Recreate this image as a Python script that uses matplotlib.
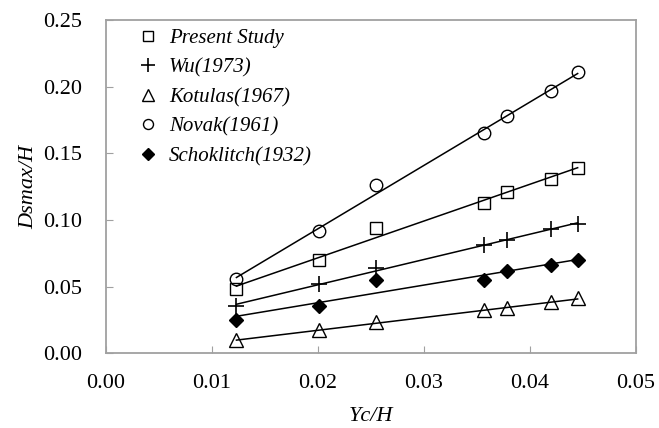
import numpy as np
import matplotlib
matplotlib.use("Agg")
import matplotlib.pyplot as plt
from matplotlib.ticker import FormatStrFormatter

plt.rcParams['font.family'] = ['Liberation Serif', 'DejaVu Serif']

yc_h = [0.0123, 0.0201, 0.0255, 0.0357, 0.0378, 0.0420, 0.0445]

present_study = [0.048, 0.070, 0.094, 0.113, 0.121, 0.131, 0.139]
wu_1973 = [0.035, 0.052, 0.064, 0.081, 0.085, 0.093, 0.097]
kotulas_1967 = [0.0097, 0.017, 0.023, 0.032, 0.034, 0.038, 0.041]
novak_1961 = [0.0556, 0.0916, 0.126, 0.165, 0.178, 0.197, 0.211]
schoklitch_1932 = [0.025, 0.035, 0.055, 0.055, 0.062, 0.066, 0.070]

series = [
    ("Present Study", present_study, dict(marker='s', mfc='none', ms=9)),
    ("Wu(1973)", wu_1973, dict(marker='+', ms=12, mew=1.2)),
    ("Kotulas(1967)", kotulas_1967, dict(marker='^', mfc='none', ms=10)),
    ("Novak(1961)", novak_1961, dict(marker='o', mfc='none', ms=9)),
    ("Schoklitch(1932)", schoklitch_1932, dict(marker='D', mfc='black', ms=7.5)),
]

fig, ax = plt.subplots(figsize=(6.59, 4.28), dpi=100)
fig.subplots_adjust(left=0.161, right=0.965, top=0.953, bottom=0.175)

x = np.array(yc_h)
for label, y, style in series:
    # straight trend line through each data set
    k, b = np.polyfit(x, y, 1)
    ax.plot(x, k * x + b, color='black', lw=1.1, zorder=2)
    ax.plot(x, y, linestyle='none', color='black', mec='black', label=label,
            zorder=3, **style)

ax.set_xlim(0, 0.05)
ax.set_ylim(0, 0.25)
ax.set_xticks(np.arange(0, 0.051, 0.01))
ax.set_yticks(np.arange(0, 0.251, 0.05))
ax.xaxis.set_major_formatter(FormatStrFormatter('%.2f'))
ax.yaxis.set_major_formatter(FormatStrFormatter('%.2f'))
ax.tick_params(direction='in', length=5, color='#a0a0a0', labelsize=16)
ax.tick_params(axis='x', pad=15)
ax.tick_params(axis='y', pad=17)

for s in ax.spines.values():
    s.set_color('#a0a0a0')
    s.set_linewidth(1.3)

ax.set_xlabel("Yc/H", fontsize=16, fontstyle='italic', labelpad=10)
ax.set_ylabel("Dsmax/H", fontsize=16, fontstyle='italic', labelpad=4)

ax.legend(loc='upper left', frameon=False,
          prop={'style': 'italic', 'size': 15},
          handletextpad=0.3, borderaxespad=0.0, labelspacing=0.48,
          handlelength=1.4, markerscale=0.8, bbox_to_anchor=(0.036, 1.0))

fig.savefig("out.png", dpi=100)
